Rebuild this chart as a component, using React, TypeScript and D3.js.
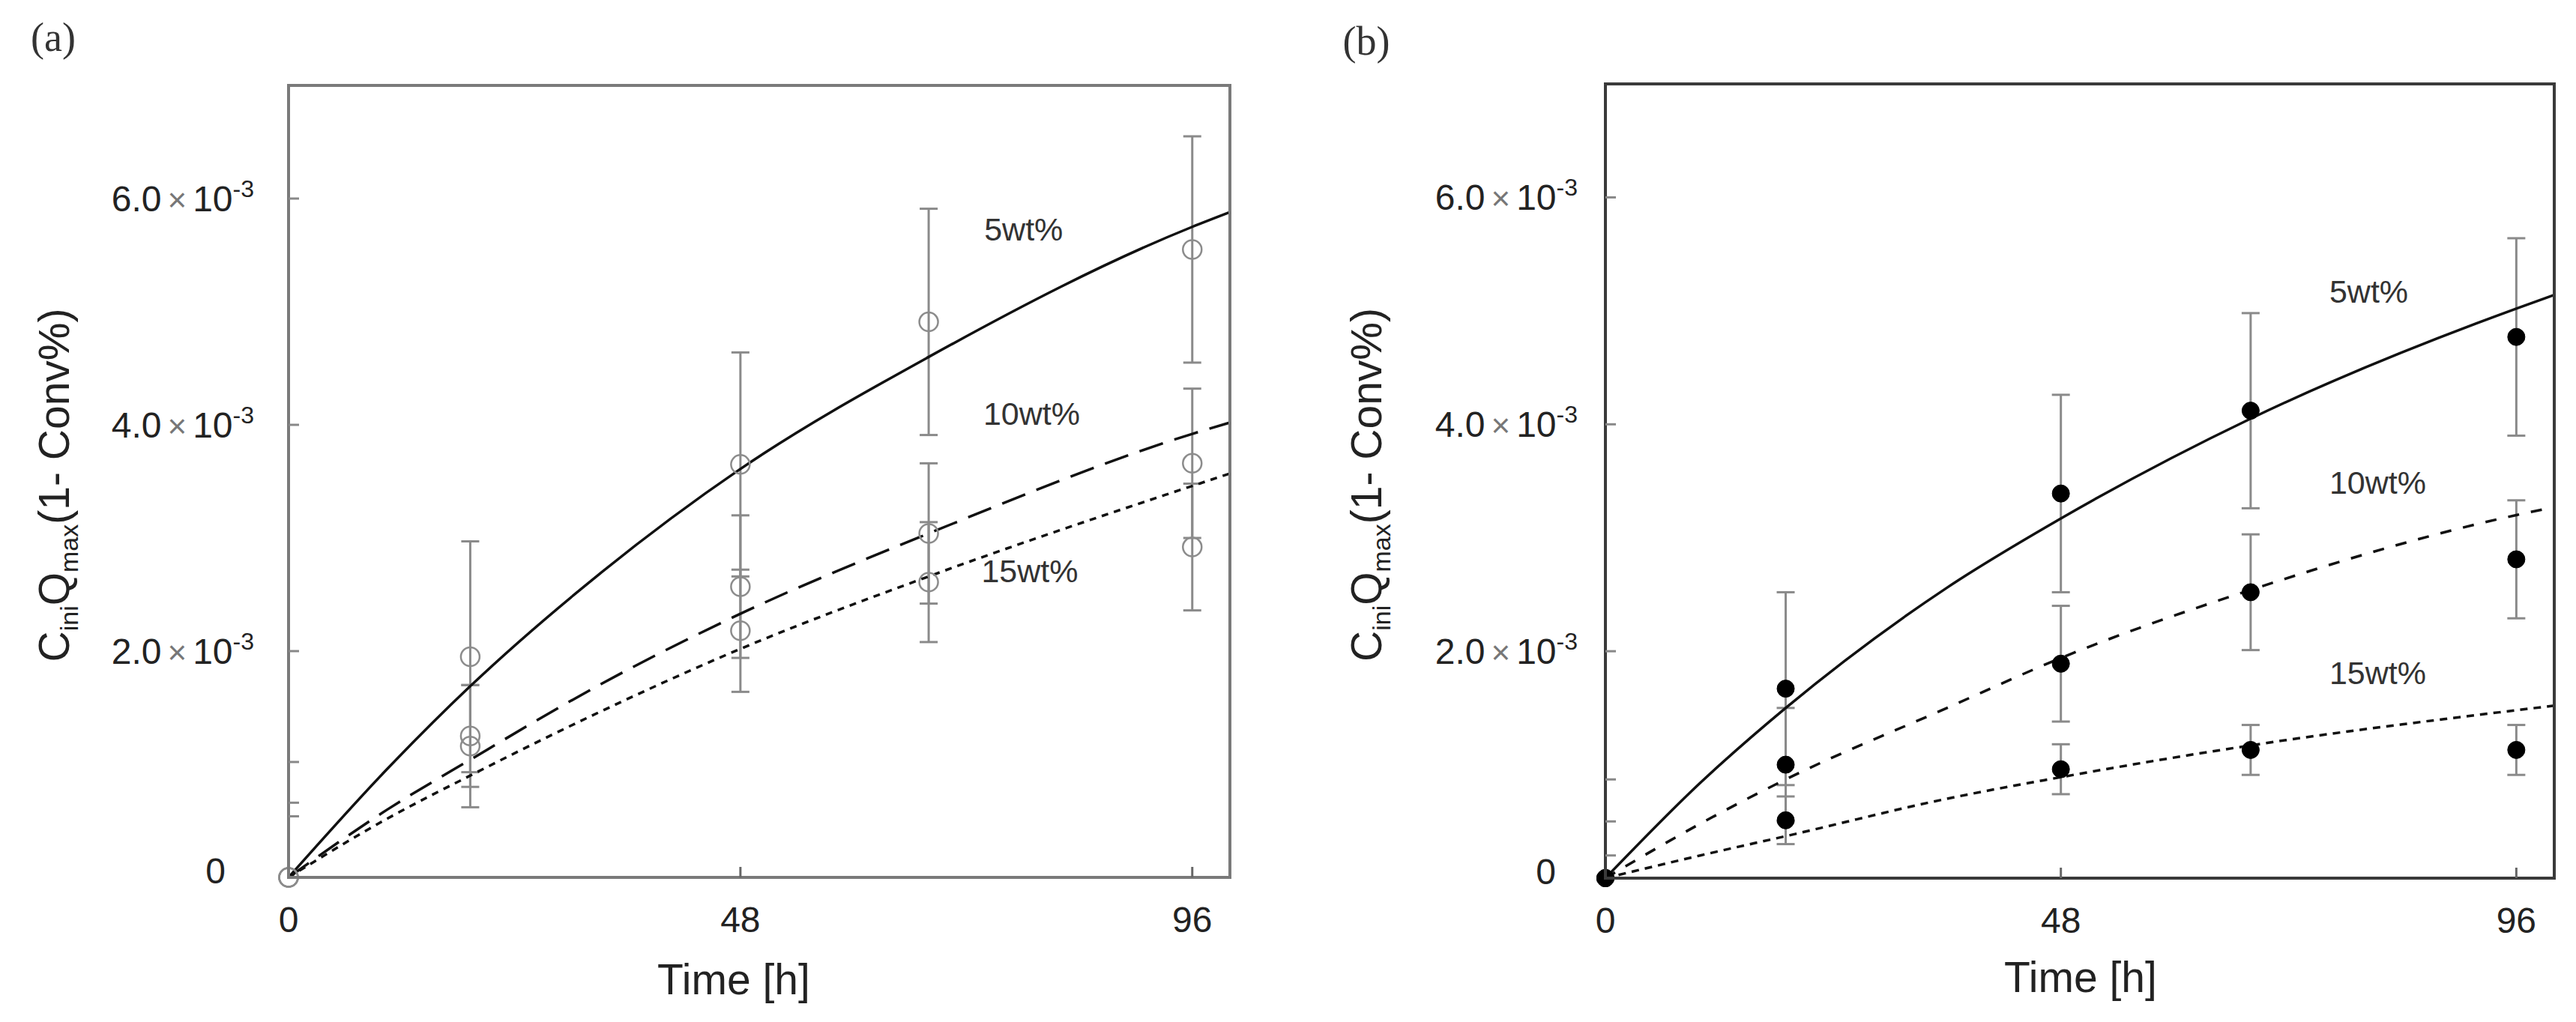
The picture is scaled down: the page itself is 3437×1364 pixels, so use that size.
import * as d3 from 'd3'

// values are in units of 10^-3
const SERIES = ['5wt%', '10wt%', '15wt%']
const X_TICKS = [0, 48, 96]
const Y_TICKS = [0, 2, 4, 6]

// panel (a): open circles
const TIME_A = [0, 19.3, 48, 68, 96]
const A_5WT = [0, 1.95, 3.65, 4.91, 5.55]
const A_5WT_ERR = [0, 1.02, 0.99, 1.0, 1.0]
const A_10WT = [0, 1.25, 2.57, 3.04, 3.66]
const A_10WT_ERR = [0, 0.45, 0.63, 0.62, 0.66]
const A_15WT = [0, 1.16, 2.18, 2.61, 2.92]
const A_15WT_ERR = [0, 0.54, 0.54, 0.53, 0.56]
const FIT_T_A = [0, 10.5, 19.3, 33, 48, 68, 96, 100]
const A_5WT_FIT = [0, 0.96, 1.69, 2.68, 3.61, 4.6, 5.75, 5.88]
const A_10WT_FIT = [0, 0.6, 1.04, 1.7, 2.33, 3.04, 3.92, 4.02]
const A_15WT_FIT = [0, 0.52, 0.9, 1.46, 2.02, 2.66, 3.46, 3.57]
const A_STRAY_TICKS = [1.02, 0.66, 0.54]

// panel (b): filled circles
const TIME_B = [0, 19, 48, 68, 96]
const B_5WT = [0, 1.67, 3.39, 4.12, 4.77]
const B_5WT_ERR = [0, 0.85, 0.87, 0.86, 0.87]
const B_10WT = [0, 1.0, 1.89, 2.52, 2.81]
const B_10WT_ERR = [0, 0.5, 0.51, 0.51, 0.52]
const B_15WT = [0, 0.51, 0.96, 1.13, 1.13]
const B_15WT_ERR = [0, 0.21, 0.22, 0.22, 0.22]
const FIT_T_B = [0, 10, 19, 36, 48, 68, 96, 100]
const B_5WT_FIT = [0, 0.84, 1.5, 2.56, 3.17, 4.05, 5.02, 5.14]
const B_10WT_FIT = [0, 0.48, 0.87, 1.5, 1.94, 2.54, 3.2, 3.27]
const B_15WT_FIT = [0, 0.2, 0.37, 0.7, 0.89, 1.17, 1.48, 1.52]
const B_STRAY_TICKS = [0.87, 0.5, 0.2]

const W = 3437
const H = 1364
const SANS = '"Liberation Sans", Arial, sans-serif'
const SERIF = '"Liberation Serif", "Times New Roman", serif'

interface PanelProps {
  tag: string
  tagX: number
  tagY: number
  box: { left: number; right: number; top: number; bottom: number }
  axisColor: string
  times: number[]
  means: number[][]
  errs: number[][]
  fitT: number[]
  fits: number[][]
  dashes: string[]
  stray: number[]
  filled: boolean
  labelPos: [number, number][]
  expEnd: number
  zeroEnd: number
  titleX: number
  titleY: number
  yTitleX: number
}

function Panel(p: PanelProps) {
  const x = d3.scaleLinear().domain([0, 100]).range([p.box.left, p.box.right])
  const y = d3.scaleLinear().domain([0, 7]).range([p.box.bottom, p.box.top])
  const line = d3.line<number>()
    .x((_, i) => x(p.fitT[i]))
    .y(d => y(d))
    .curve(d3.curveMonotoneX)
  const cap = 12

  return (
    <g>
      <text x={p.tagX} y={p.tagY} textAnchor="middle" fontFamily={SERIF} fontSize={54} fill="#333">{p.tag}</text>

      {/* error bars */}
      {p.means.map((m, si) => m.map((v, i) => {
        const e = p.errs[si][i]
        if (!e) return null
        const cx = x(p.times[i])
        return (
          <g key={`e${si}-${i}`} stroke="#8a8a8a" strokeWidth={3}>
            <line x1={cx} x2={cx} y1={y(v + e)} y2={y(v - e)} />
            <line x1={cx - cap} x2={cx + cap} y1={y(v + e)} y2={y(v + e)} />
            <line x1={cx - cap} x2={cx + cap} y1={y(v - e)} y2={y(v - e)} />
          </g>
        )
      }))}

      {/* fitted curves */}
      {p.fits.map((f, si) => (
        <path key={`f${si}`} d={line(f) || ''} fill="none" stroke="#111" strokeWidth={3.5}
          strokeDasharray={p.dashes[si]} />
      ))}

      {/* markers */}
      {p.means.map((m, si) => m.map((v, i) => (
        <circle key={`m${si}-${i}`} cx={x(p.times[i])} cy={y(v)}
          r={p.filled ? 11.5 : 12.5}
          fill={p.filled ? '#000' : 'none'}
          stroke={p.filled ? '#000' : '#8c8c8c'}
          strokeWidth={p.filled ? 1 : 2.5} />
      )))}

      {/* frame */}
      <rect x={p.box.left} y={p.box.top} width={p.box.right - p.box.left} height={p.box.bottom - p.box.top}
        fill="none" stroke={p.axisColor} strokeWidth={4} />

      {/* y ticks */}
      {Y_TICKS.filter(t => t > 0).concat(p.stray).map((t, i) => (
        <line key={`yt${i}`} x1={p.box.left} x2={p.box.left + 14} y1={y(t)} y2={y(t)} stroke="#888" strokeWidth={3} />
      ))}
      {X_TICKS.filter(t => t > 0).map(t => (
        <line key={`xt${t}`} x1={x(t)} x2={x(t)} y1={p.box.bottom} y2={p.box.bottom - 14} stroke="#666" strokeWidth={3} />
      ))}

      {/* y tick labels */}
      {Y_TICKS.map(t => t === 0 ? (
        <text key={`yl${t}`} x={p.zeroEnd} y={y(t)} dy={8} textAnchor="end" fontFamily={SANS} fontSize={48} fill="#222">0</text>
      ) : (
        <text key={`yl${t}`} x={p.expEnd} y={y(t)} dy={17} textAnchor="end" fontFamily={SANS} fontSize={48} fill="#222">
          <tspan>{t.toFixed(1)}</tspan>
          <tspan dx={8} fontSize={44} fill="#777">×</tspan>
          <tspan dx={8}>10</tspan>
          <tspan fontSize={32} dy={-19}>-3</tspan>
        </text>
      ))}

      {/* x tick labels */}
      {X_TICKS.map(t => (
        <text key={`xl${t}`} x={x(t)} y={p.box.bottom + 73} textAnchor="middle" fontFamily={SANS} fontSize={48} fill="#222">{t}</text>
      ))}

      {/* series labels */}
      {SERIES.map((s, i) => (
        <text key={s} x={x(p.labelPos[i][0])} y={y(p.labelPos[i][1])} fontFamily={SANS} fontSize={43} fill="#333">{s}</text>
      ))}

      {/* axis titles */}
      <text x={p.titleX} y={p.titleY} textAnchor="middle" fontFamily={SANS} fontSize={57} fill="#222">Time [h]</text>
      <text transform={`translate(${p.yTitleX},${(p.box.top + p.box.bottom) / 2 + 5}) rotate(-90)`} textAnchor="middle"
        fontFamily={SANS} fontSize={57} fill="#222">
        C<tspan fontSize={34} dy={12}>ini</tspan><tspan dy={-12}>Q</tspan><tspan fontSize={34} dy={12}>max</tspan><tspan dy={-12}>(1- Conv%)</tspan>
      </text>
    </g>
  )
}

export default function App() {
  return (
    <svg width={W} height={H} viewBox={`0 0 ${W} ${H}`}
      style={{ position: 'absolute', left: 0, top: 0, background: '#fff', display: 'block' }}>
      <rect width={W} height={H} fill="#fff" />
      <Panel
        tag="(a)" tagX={71} tagY={68}
        box={{ left: 385, right: 1641, top: 114, bottom: 1171 }}
        axisColor="#7a7a7a"
        times={TIME_A}
        means={[A_5WT, A_10WT, A_15WT]}
        errs={[A_5WT_ERR, A_10WT_ERR, A_15WT_ERR]}
        fitT={FIT_T_A}
        fits={[A_5WT_FIT, A_10WT_FIT, A_15WT_FIT]}
        dashes={['none', '33,16', '9,8']}
        stray={A_STRAY_TICKS}
        filled={false}
        labelPos={[[73.9, 5.63], [73.8, 4.0], [73.6, 2.61]]}
        expEnd={339} zeroEnd={301}
        titleX={979} titleY={1327}
        yTitleX={92}
      />
      <Panel
        tag="(b)" tagX={1823} tagY={73}
        box={{ left: 2142, right: 3408, top: 112, bottom: 1172 }}
        axisColor="#3a3a3a"
        times={TIME_B}
        means={[B_5WT, B_10WT, B_15WT]}
        errs={[B_5WT_ERR, B_10WT_ERR, B_15WT_ERR]}
        fitT={FIT_T_B}
        fits={[B_5WT_FIT, B_10WT_FIT, B_15WT_FIT]}
        dashes={['none', '15,16', '10,8']}
        stray={B_STRAY_TICKS}
        filled={true}
        labelPos={[[76.3, 5.07], [76.3, 3.39], [76.3, 1.71]]}
        expEnd={2105} zeroEnd={2076}
        titleX={2776} titleY={1324}
        yTitleX={1843}
      />
    </svg>
  )
}
